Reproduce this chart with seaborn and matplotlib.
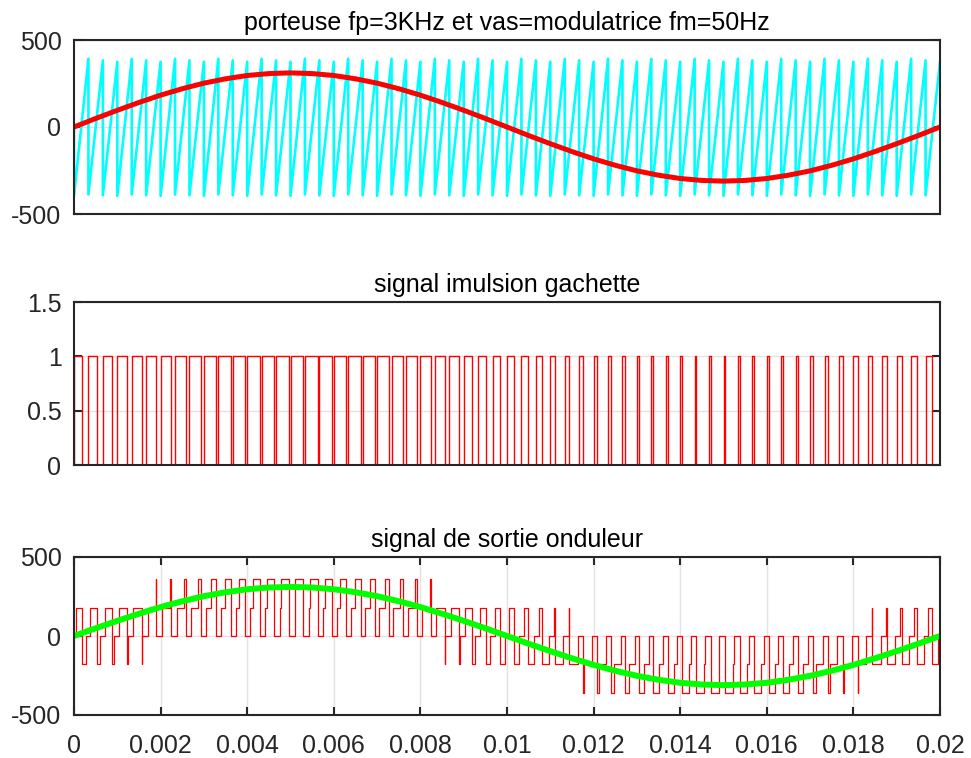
import numpy as np
import pandas as pd
import matplotlib
matplotlib.use("Agg")
import matplotlib.pyplot as plt
import seaborn as sns

# ---------------- data ----------------
# time axis
t_end = 0.02
n_periods = 60                       # 3 kHz carrier over 0.02 s
period = t_end / n_periods

# modulating sine (vas), sampled every 0.0005 s
t_mod = [0.0000, 0.0005, 0.0010, 0.0015, 0.0020, 0.0025, 0.0030, 0.0035, 0.0040, 0.0045,
         0.0050, 0.0055, 0.0060, 0.0065, 0.0070, 0.0075, 0.0080, 0.0085, 0.0090, 0.0095,
         0.0100, 0.0105, 0.0110, 0.0115, 0.0120, 0.0125, 0.0130, 0.0135, 0.0140, 0.0145,
         0.0150, 0.0155, 0.0160, 0.0165, 0.0170, 0.0175, 0.0180, 0.0185, 0.0190, 0.0195,
         0.0200]
v_mod = [0, 49, 96, 141, 183, 220, 252, 277, 296, 307,
         311, 307, 296, 277, 252, 220, 183, 141, 96, 49,
         0, -49, -96, -141, -183, -220, -252, -277, -296, -307,
         -311, -307, -296, -277, -252, -220, -183, -141, -96, -49,
         0]

# carrier sawtooth: tooth peaks / troughs (3-tooth aliasing pattern)
carrier_start = 0
carrier_peaks = [392, 383, 375]
carrier_troughs = [-396, -388, -393]

# duty cycle of the gate pulse in each carrier period (phase a)
duty_a = [0.521, 0.562, 0.602, 0.641, 0.679, 0.715, 0.748, 0.779, 0.806, 0.830,
          0.851, 0.868, 0.881, 0.889, 0.893, 0.893, 0.889, 0.881, 0.868, 0.851,
          0.830, 0.806, 0.779, 0.748, 0.715, 0.679, 0.641, 0.602, 0.562, 0.521,
          0.479, 0.438, 0.398, 0.359, 0.321, 0.285, 0.252, 0.221, 0.194, 0.170,
          0.149, 0.132, 0.119, 0.111, 0.107, 0.107, 0.111, 0.119, 0.132, 0.149,
          0.170, 0.194, 0.221, 0.252, 0.285, 0.321, 0.359, 0.398, 0.438, 0.479]
phase_shift_periods = 20            # 120 degrees = 20 carrier periods
level_step = 180                    # Vdc/3

x_ticks = [0, 0.002, 0.004, 0.006, 0.008, 0.01, 0.012, 0.014, 0.016, 0.018, 0.02]
x_tick_labels = ["0", "0.002", "0.004", "0.006", "0.008", "0.01", "0.012",
                 "0.014", "0.016", "0.018", "0.02"]
titles = ["porteuse fp=3KHz et vas=modulatrice fm=50Hz",
          "signal imulsion gachette",
          "signal de sortie onduleur"]

# ---------------- build line vertices from the data ----------------
# carrier
ct, cv = [0.0], [carrier_start]
for k in range(n_periods):
    ct += [k * period, (k + 1) * period]
    cv += [carrier_troughs[k % 3], carrier_peaks[k % 3]]
df_carrier = pd.DataFrame({"t": ct, "v": cv})
df_mod = pd.DataFrame({"t": t_mod, "v": v_mod})

# gate pulse (phase a)
gt, gv = [0.0], [0]
for k in range(n_periods):
    t0 = k * period
    t1 = t0 + duty_a[k] * period
    gt += [t0, t1, t1, (k + 1) * period]
    gv += [1, 1, 0, 0]
df_gate = pd.DataFrame({"t": gt, "v": gv})

# output phase voltage from the three phase gates
duty_b = [duty_a[(k - phase_shift_periods) % n_periods] for k in range(n_periods)]
duty_c = [duty_a[(k + phase_shift_periods) % n_periods] for k in range(n_periods)]
ot, ov = [0.0], [0]
for k in range(n_periods):
    t0 = k * period
    s = {"a": 1, "b": 1, "c": 1}
    lvl = level_step * (2 * s["a"] - s["b"] - s["c"])
    ot.append(t0); ov.append(lvl)
    events = sorted([(duty_a[k], "a"), (duty_b[k], "b"), (duty_c[k], "c")])
    for d, ph in events:
        te = t0 + d * period
        ot.append(te); ov.append(lvl)
        s[ph] = 0
        lvl = level_step * (2 * s["a"] - s["b"] - s["c"])
        ot.append(te); ov.append(lvl)
    ot.append((k + 1) * period); ov.append(lvl)
df_out = pd.DataFrame({"t": ot, "v": ov})

# ---------------- plotting ----------------
sns.set_theme(style="white")
plt.rcParams["font.family"] = ["Liberation Sans", "DejaVu Sans"]
plt.rcParams["axes.unicode_minus"] = False
dark = "#262626"
grid_c = "#e3e3e3"

fig = plt.figure(figsize=(9.71, 7.58), dpi=100)
W, H = 971, 758
def axes_px(left, top, right, bottom):
    return fig.add_axes([left / W, 1 - bottom / H, (right - left) / W, (bottom - top) / H])

ax1 = axes_px(74, 40, 940, 214)
ax2 = axes_px(74, 302, 940, 465)
ax3 = axes_px(74, 557, 940, 715)

sns.lineplot(data=df_carrier, x="t", y="v", sort=False, estimator=None,
             color="#00ffff", lw=1.9, ax=ax1)
sns.lineplot(data=df_mod, x="t", y="v", sort=False, estimator=None,
             color="#ff0000", lw=3.6, ax=ax1)
sns.lineplot(data=df_gate, x="t", y="v", sort=False, estimator=None,
             color="#ff0000", lw=1.0, ax=ax2)
sns.lineplot(data=df_out, x="t", y="v", sort=False, estimator=None,
             color="#ff0000", lw=0.9, ax=ax3)
sns.lineplot(data=df_mod, x="t", y="v", sort=False, estimator=None,
             color="#00ff00", lw=4.3, ax=ax3)

ax1.set_ylim(-500, 500); ax1.set_yticks([-500, 0, 500])
ax2.set_ylim(0, 1.5); ax2.set_yticks([0, 0.5, 1, 1.5])
ax2.set_yticklabels(["0", "0.5", "1", "1.5"])
ax3.set_ylim(-500, 500); ax3.set_yticks([-500, 0, 500])

for i, ax in enumerate((ax1, ax2, ax3)):
    ax.set_xlim(0, t_end)
    ax.set_xlabel(""); ax.set_ylabel("")
    ax.set_title(titles[i], fontsize=18, color="black", pad=7)
    for sp in ax.spines.values():
        sp.set_color(dark); sp.set_linewidth(1.5); sp.set_visible(True)
    ax.tick_params(direction="in", length=6, width=1.5, color=dark,
                   labelsize=18, labelcolor=dark, top=True, right=True,
                   left=True, bottom=True)
    ax.tick_params(axis="y", pad=9)
    ax.yaxis.grid(True, color=grid_c, lw=1.0)
    ax.set_axisbelow(True)

ax1.set_xticks([]); ax2.set_xticks([])
ax3.set_xticks(x_ticks)
ax3.set_xticklabels(x_tick_labels)
ax3.tick_params(axis="x", pad=14)
ax3.xaxis.grid(True, color=grid_c, lw=1.0)

fig.savefig("out.png", dpi=100)
